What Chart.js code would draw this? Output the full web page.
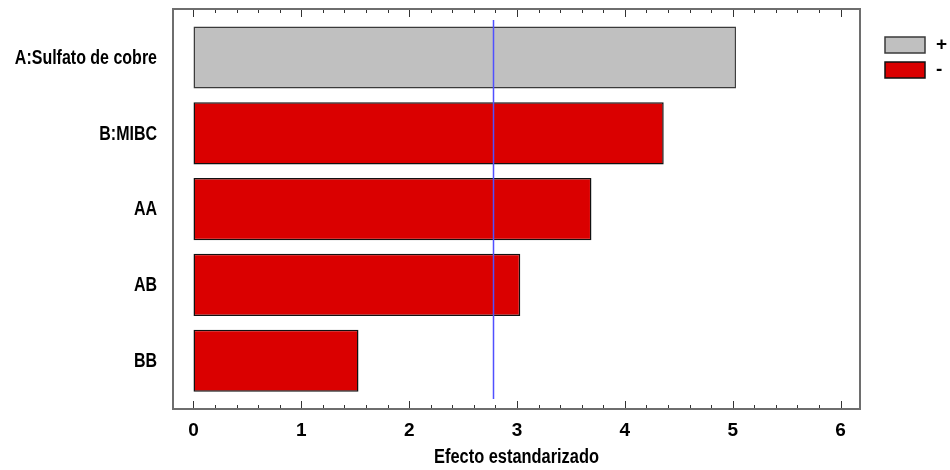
<!DOCTYPE html>
<html>
<head>
<meta charset="utf-8">
<script src="https://cdn.jsdelivr.net/npm/chart.js@4.4.1/dist/chart.umd.min.js"></script>
<style>
  html, body { margin: 0; padding: 0; background: #fff; }
  #wrap { width: 950px; height: 470px; }
</style>
</head>
<body>
<div id="wrap"><canvas id="pareto"></canvas></div>
<script>
// Pareto de efectos estandarizados
const factors = ['A:Sulfato de cobre', 'B:MIBC', 'AA', 'AB', 'BB'];
const effects = [5.03, 4.36, 3.69, 3.03, 1.53];
const signs = ['+', '-', '-', '-', '-'];
const xTicks = [0, 1, 2, 3, 4, 5, 6];
const critical = 2.776;
const xTitle = 'Efecto estandarizado';

const colorPos = '#c0c0c0';
const colorNeg = '#da0000';
const FONT = "'Liberation Sans', Arial, sans-serif";
const NARROW = 0.82; // fuente estrecha simulada

const ctx = document.getElementById('pareto').getContext('2d');

function narrowText(c, text, x, y, size, align) {
  c.save();
  c.font = 'bold ' + size + 'px ' + FONT;
  c.textAlign = align;
  c.translate(x, y);
  c.scale(NARROW, 1);
  c.fillText(text, 0, 0);
  c.restore();
}

const extras = {
  id: 'extras',
  afterDatasetsDraw(chart) {
    const c = chart.ctx, a = chart.chartArea, x = chart.scales.x;
    c.save();
    // linea de significancia
    const xc = Math.round(x.getPixelForValue(critical)) + 0.5;
    c.strokeStyle = '#5050ff';
    c.lineWidth = 1.5;
    c.beginPath();
    c.moveTo(xc, a.top + 11);
    c.lineTo(xc, a.bottom - 10);
    c.stroke();

    // marcas del eje (arriba y abajo)
    c.strokeStyle = '#333';
    c.lineWidth = 1;
    for (let v = 0; v <= 6.001; v += 0.2) {
      const major = Math.abs(v - Math.round(v)) < 0.01;
      const len = major ? 8 : 4;
      const px = Math.round(x.getPixelForValue(v)) + 0.5;
      c.beginPath();
      c.moveTo(px, a.bottom);
      c.lineTo(px, a.bottom - len);
      c.moveTo(px, a.top);
      c.lineTo(px, a.top + len);
      c.stroke();
    }
    c.restore();
  },
  afterDraw(chart) {
    const c = chart.ctx, a = chart.chartArea, y = chart.scales.y;
    c.save();
    c.strokeStyle = '#6e6e6e';
    c.lineWidth = 2;
    c.strokeRect(a.left, a.top, a.right - a.left, a.bottom - a.top);

    // etiquetas de factores y titulo del eje
    c.fillStyle = '#000';
    c.textBaseline = 'middle';
    factors.forEach((f, i) => {
      narrowText(c, f, a.left - 16, y.getPixelForValue(i) + 1, 19.5, 'right');
    });
    c.textBaseline = 'alphabetic';
    narrowText(c, xTitle, (a.left + a.right) / 2, 463, 20, 'center');

    // leyenda
    const items = [['+', colorPos, '#3a3a3a'], ['-', colorNeg, '#111']];
    c.font = 'bold 19px ' + FONT;
    c.textBaseline = 'middle';
    c.textAlign = 'left';
    items.forEach((it, i) => {
      const yy = 37 + i * 25;
      c.fillStyle = it[1];
      c.fillRect(885, yy, 40, 16);
      c.strokeStyle = it[2];
      c.lineWidth = 1.5;
      c.strokeRect(885, yy, 40, 16);
      c.fillStyle = '#000';
      c.fillText(it[0], 936, yy + 8);
    });
    c.restore();
  }
};

new Chart(ctx, {
  type: 'bar',
  data: {
    datasets: [{
      data: effects.map((v, i) => ({ x: v, y: i })),
      backgroundColor: signs.map(s => s === '+' ? colorPos : colorNeg),
      borderColor: signs.map(s => s === '+' ? '#3a3a3a' : '#111'),
      borderWidth: 1.5,
      borderSkipped: false,
      categoryPercentage: 1,
      barPercentage: 0.82
    }]
  },
  options: {
    indexAxis: 'y',
    responsive: true,
    maintainAspectRatio: false,
    animation: false,
    layout: { padding: { left: 0, top: 9, right: 90, bottom: 0 } },
    plugins: {
      legend: { display: false },
      tooltip: { enabled: false }
    },
    scales: {
      x: {
        type: 'linear',
        min: -0.19,
        max: 6.18,
        grid: { display: false, drawTicks: false },
        border: { display: false },
        afterBuildTicks: s => { s.ticks = xTicks.map(v => ({ value: v })); },
        afterFit: s => { s.height = 61; s.paddingLeft = 0; s.paddingRight = 0; },
        ticks: {
          color: '#000',
          padding: 10,
          font: { family: FONT, size: 19, weight: 'bold' }
        }
      },
      y: {
        type: 'linear',
        reverse: true,
        offset: false,
        min: -0.64,
        max: 4.637,
        grid: { display: false, drawTicks: false },
        border: { display: false },
        afterBuildTicks: s => { s.ticks = factors.map((f, i) => ({ value: i })); },
        afterFit: s => { s.width = 173; s.paddingTop = 0; s.paddingBottom = 0; },
        ticks: { display: false }
      }
    }
  },
  plugins: [extras]
});
</script>
</body>
</html>
